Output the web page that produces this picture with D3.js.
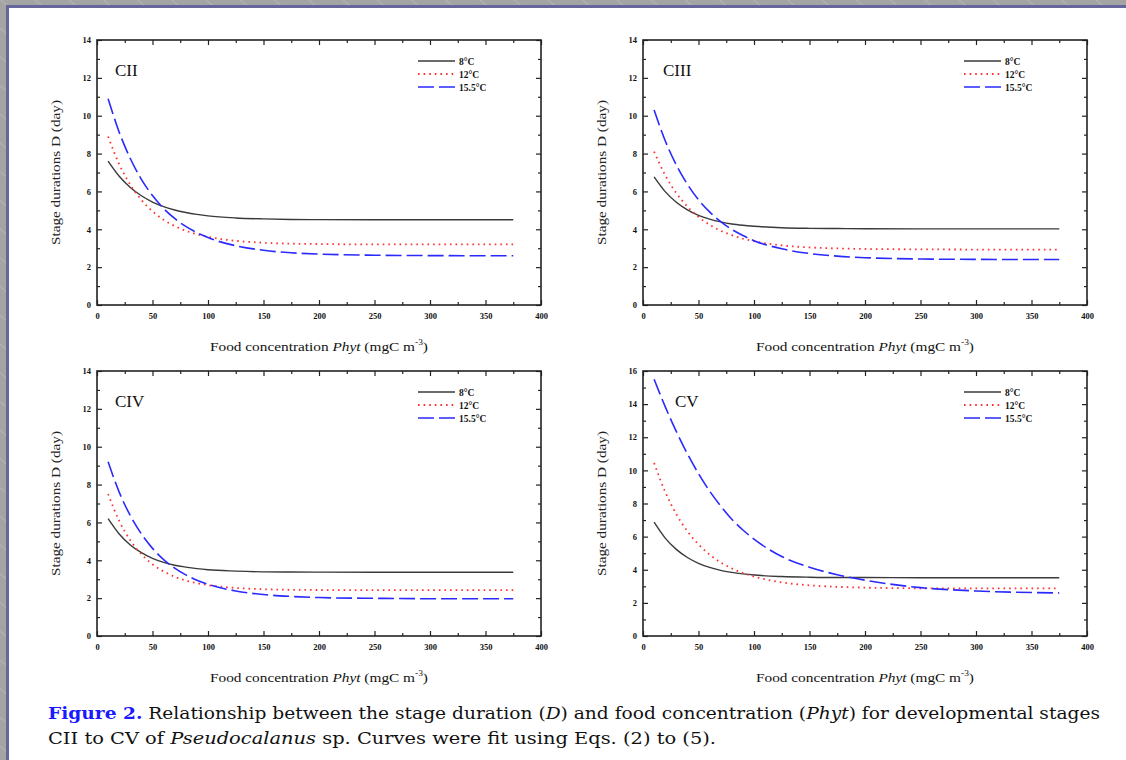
<!DOCTYPE html>
<html>
<head>
<meta charset="utf-8">
<script src="https://cdn.jsdelivr.net/npm/d3@7"></script>
<style>
  body { margin: 0; padding: 0; background: #a6a6a6; }
  svg { display: block; }
</style>
</head>
<body>
<svg id="fig"></svg>
<script>
const phyt = [10, 20, 30, 40, 50, 60, 70, 80, 90, 100, 125, 150, 175, 200, 250, 300, 375];

const temps = ['8°C', '12°C', '15.5°C'];
const xTicks = [0, 50, 100, 150, 200, 250, 300, 350, 400];

// stage durations D (day)
const cii_8   = [7.6, 6.8, 6.21, 5.77, 5.44, 5.2, 5.02, 4.89, 4.79, 4.71, 4.6, 4.55, 4.52, 4.51, 4.5, 4.5, 4.5];
const cii_12  = [8.9, 7.44, 6.36, 5.55, 4.95, 4.5, 4.17, 3.92, 3.74, 3.6, 3.39, 3.29, 3.24, 3.22, 3.2, 3.2, 3.2];
const cii_155 = [10.9, 9.13, 7.74, 6.64, 5.78, 5.1, 4.57, 4.15, 3.82, 3.56, 3.13, 2.89, 2.76, 2.69, 2.63, 2.61, 2.6];

const ciii_8   = [6.77, 5.99, 5.43, 5.03, 4.74, 4.54, 4.39, 4.28, 4.21, 4.16, 4.08, 4.05, 4.04, 4.03, 4.02, 4.02, 4.02];
const ciii_12  = [8.1, 6.86, 5.91, 5.2, 4.65, 4.24, 3.92, 3.69, 3.5, 3.37, 3.15, 3.04, 2.99, 2.96, 2.94, 2.93, 2.93];
const ciii_155 = [10.3, 8.68, 7.4, 6.38, 5.56, 4.92, 4.4, 3.99, 3.67, 3.4, 2.97, 2.72, 2.58, 2.5, 2.43, 2.41, 2.4];

const civ_8   = [6.2, 5.39, 4.81, 4.4, 4.1, 3.89, 3.74, 3.64, 3.56, 3.5, 3.43, 3.39, 3.38, 3.375, 3.37, 3.37, 3.37];
const civ_12  = [7.5, 6.08, 5.06, 4.32, 3.79, 3.41, 3.13, 2.93, 2.79, 2.69, 2.54, 2.47, 2.44, 2.43, 2.42, 2.42, 2.42];
const civ_155 = [9.2, 7.6, 6.36, 5.39, 4.63, 4.04, 3.59, 3.23, 2.95, 2.73, 2.38, 2.19, 2.09, 2.03, 1.99, 1.97, 1.97];

const cv_8   = [6.87, 5.91, 5.23, 4.74, 4.39, 4.14, 3.96, 3.84, 3.75, 3.68, 3.59, 3.55, 3.53, 3.53, 3.52, 3.52, 3.52];
const cv_12  = [10.45, 8.7, 7.36, 6.32, 5.53, 4.92, 4.44, 4.08, 3.8, 3.59, 3.24, 3.06, 2.97, 2.92, 2.88, 2.87, 2.87];
const cv_155 = [15.5, 13.85, 12.35, 11.0, 9.8, 8.75, 7.85, 7.05, 6.4, 5.85, 4.8, 4.15, 3.7, 3.37, 2.92, 2.72, 2.6];

const W = 1126, H = 760;
const styles = [
    { color: '#3a3a3a', dash: null, width: 1.4 },
    { color: '#ff3030', dash: '1.6,4', width: 1.8 },
    { color: '#2a2aff', dash: '16,5', width: 1.6 }
];

const svg = d3.select('#fig').attr('width', W).attr('height', H);

// slide background: grey hatch + bluish border + white page
const defs = svg.append('defs');
const pat = defs.append('pattern')
    .attr('id', 'hatch')
    .attr('width', 22).attr('height', 22)
    .attr('patternUnits', 'userSpaceOnUse')
    .attr('patternTransform', 'rotate(-50)');
pat.append('rect').attr('width', 22).attr('height', 22).attr('fill', '#a4a4a4');
pat.append('line').attr('x1', 0).attr('y1', 0).attr('x2', 0).attr('y2', 22)
    .attr('stroke', '#c4c4c4').attr('stroke-width', 1);

svg.append('rect').attr('width', W).attr('height', H).attr('fill', 'url(#hatch)');
svg.append('rect').attr('x', 6).attr('y', 5).attr('width', W - 6).attr('height', H - 5).attr('fill', '#66669a');
svg.append('rect').attr('x', 9).attr('y', 8).attr('width', W - 9).attr('height', H - 8).attr('fill', '#ffffff');

const panels = [
    { name: 'CII',  x0: 97,  top: 40,  ymax: 14, lx: 18, series: [cii_8, cii_12, cii_155] },
    { name: 'CIII', x0: 643, top: 40,  ymax: 14, lx: 20, series: [ciii_8, ciii_12, ciii_155] },
    { name: 'CIV',  x0: 97,  top: 371, ymax: 14, lx: 18, series: [civ_8, civ_12, civ_155] },
    { name: 'CV',   x0: 643, top: 371, ymax: 16, lx: 32, series: [cv_8, cv_12, cv_155] }
];
const pw = 444, ph = 265;

const serif = '"Liberation Serif", "Times New Roman", serif';

function drawPanel(p) {
    const g = svg.append('g').attr('transform', `translate(${p.x0}, ${p.top})`);

    const xscale = d3.scaleLinear().domain([0, 400]).range([0, pw]);
    const yscale = d3.scaleLinear().domain([0, p.ymax]).range([ph, 0]);

    const yMajor = d3.range(0, p.ymax + 1, 2);
    const yMinor = d3.range(1, p.ymax, 2);
    const xMinor = d3.range(25, 400, 50);

    const tickStyle = sel => {
        sel.select('.domain').remove();
        sel.selectAll('line').attr('stroke', '#222').attr('stroke-width', 1.2);
        sel.selectAll('text')
            .attr('font-family', serif)
            .attr('font-size', 8.5)
            .attr('font-weight', 'bold')
            .attr('fill', '#111');
    };

    // bottom
    g.append('g').attr('transform', `translate(0, ${ph})`)
        .call(d3.axisBottom(xscale).tickValues(xTicks).tickSize(-5).tickPadding(8).tickFormat(d3.format('d')))
        .call(tickStyle);
    g.append('g').attr('transform', `translate(0, ${ph})`)
        .call(d3.axisBottom(xscale).tickValues(xMinor).tickSize(-3).tickFormat(''))
        .call(tickStyle);
    // top
    g.append('g')
        .call(d3.axisTop(xscale).tickValues(xTicks).tickSize(-5).tickFormat(''))
        .call(tickStyle);
    g.append('g')
        .call(d3.axisTop(xscale).tickValues(xMinor).tickSize(-3).tickFormat(''))
        .call(tickStyle);
    // left
    g.append('g')
        .call(d3.axisLeft(yscale).tickValues(yMajor).tickSize(-5).tickPadding(6).tickFormat(d3.format('d')))
        .call(tickStyle);
    g.append('g')
        .call(d3.axisLeft(yscale).tickValues(yMinor).tickSize(-3).tickFormat(''))
        .call(tickStyle);
    // right
    g.append('g').attr('transform', `translate(${pw}, 0)`)
        .call(d3.axisRight(yscale).tickValues(yMajor).tickSize(-5).tickFormat(''))
        .call(tickStyle);
    g.append('g').attr('transform', `translate(${pw}, 0)`)
        .call(d3.axisRight(yscale).tickValues(yMinor).tickSize(-3).tickFormat(''))
        .call(tickStyle);

    g.append('rect')
        .attr('width', pw).attr('height', ph)
        .attr('fill', 'none').attr('stroke', '#222').attr('stroke-width', 1.6);

    const line = d3.line()
        .x((d, i) => xscale(phyt[i]))
        .y(d => yscale(d))
        .curve(d3.curveMonotoneX);

    p.series.forEach((s, i) => {
        g.append('path')
            .datum(s)
            .attr('fill', 'none')
            .attr('stroke', styles[i].color)
            .attr('stroke-width', styles[i].width)
            .attr('stroke-dasharray', styles[i].dash)
            .attr('d', line);
    });

    // stage label
    g.append('text')
        .attr('x', p.lx).attr('y', 36)
        .attr('font-family', serif)
        .attr('font-size', 17)
        .attr('fill', '#111')
        .text(p.name);

    // legend
    temps.forEach((t, i) => {
        const ly = 21 + i * 13;
        g.append('line')
            .attr('x1', pw - 123).attr('x2', pw - 86)
            .attr('y1', ly).attr('y2', ly)
            .attr('stroke', styles[i].color)
            .attr('stroke-width', styles[i].width)
            .attr('stroke-dasharray', styles[i].dash);
        g.append('text')
            .attr('x', pw - 82).attr('y', ly + 3.5)
            .attr('font-family', serif)
            .attr('font-size', 9.5)
            .attr('font-weight', 'bold')
            .attr('fill', '#111')
            .text(t);
    });

    // axis titles
    g.append('text')
        .attr('transform', `translate(-37, ${ph / 2}) rotate(-90)`)
        .attr('text-anchor', 'middle')
        .attr('font-family', serif)
        .attr('font-size', 13)
        .attr('fill', '#222')
        .attr('textLength', 145)
        .attr('lengthAdjust', 'spacingAndGlyphs')
        .text('Stage durations D (day)');

    const xt = g.append('text')
        .attr('x', pw / 2).attr('y', ph + 46)
        .attr('text-anchor', 'middle')
        .attr('font-family', serif)
        .attr('font-size', 13)
        .attr('fill', '#111')
        .attr('textLength', 218)
        .attr('lengthAdjust', 'spacingAndGlyphs');
    xt.append('tspan').text('Food concentration ');
    xt.append('tspan').attr('font-style', 'italic').text('Phyt');
    xt.append('tspan').text(' (mgC  m');
    xt.append('tspan').attr('dy', -6).attr('font-size', 8).text('-3');
    xt.append('tspan').attr('dy', 6).text(')');
}

panels.forEach(drawPanel);

// caption
const capFont = '"DejaVu Serif", "Liberation Serif", serif';
const cap1 = svg.append('text')
    .attr('x', 48).attr('y', 719)
    .attr('font-family', capFont)
    .attr('font-size', 17.5)
    .attr('fill', '#111')
    .attr('textLength', 1052)
    .attr('lengthAdjust', 'spacingAndGlyphs');
cap1.append('tspan').attr('fill', '#1a1aff').attr('font-weight', 'bold').text('Figure 2.');
cap1.append('tspan').text(' Relationship between the stage duration (');
cap1.append('tspan').attr('font-style', 'italic').text('D');
cap1.append('tspan').text(') and food concentration (');
cap1.append('tspan').attr('font-style', 'italic').text('Phyt');
cap1.append('tspan').text(') for developmental stages');

const cap2 = svg.append('text')
    .attr('x', 48).attr('y', 744)
    .attr('font-family', capFont)
    .attr('font-size', 17.5)
    .attr('fill', '#111')
    .attr('textLength', 668)
    .attr('lengthAdjust', 'spacingAndGlyphs');
cap2.append('tspan').text('CII to CV of ');
cap2.append('tspan').attr('font-style', 'italic').text('Pseudocalanus');
cap2.append('tspan').text(' sp. Curves were fit using Eqs. (2) to (5).');
</script>
</body>
</html>
